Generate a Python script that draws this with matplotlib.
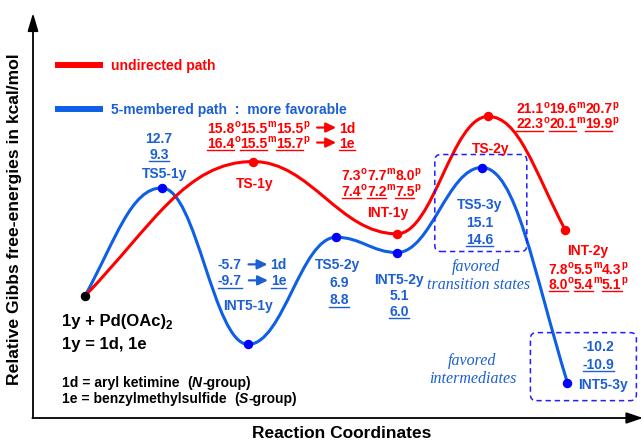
import matplotlib
matplotlib.use("Agg")
import matplotlib.pyplot as plt
from matplotlib.path import Path
from matplotlib.patches import PathPatch, FancyArrowPatch, FancyBboxPatch
from matplotlib.lines import Line2D
from matplotlib.transforms import IdentityTransform

plt.rcParams["font.family"] = ["Liberation Sans", "DejaVu Sans"]
plt.rcParams["font.weight"] = "bold"

# 5-membered (directed) path: reaction coordinate and free energies (kcal/mol)
blue_states = ["1y", "TS5-1y", "INT5-1y", "TS5-2y", "INT5-2y", "TS5-3y", "INT5-3y"]
blue_coord = [0.0, 0.96, 2.04, 3.14, 3.9, 4.96, 6.03]
blue_1d = [0.0, 12.7, -5.7, 6.9, 5.1, 15.1, -10.2]
blue_1e = [0.0, 9.3, -9.7, 8.8, 6.0, 14.6, -10.9]

# undirected path, ortho / meta / para for 1d and 1e
red_states = ["1y", "TS-1y", "INT-1y", "TS-2y", "INT-2y"]
red_coord = [0.0, 2.1, 3.9, 5.04, 6.0]
red_1d_o = [0.0, 15.8, 7.3, 21.1, 7.8]
red_1d_m = [0.0, 15.5, 7.7, 19.6, 5.5]
red_1d_p = [0.0, 15.5, 8.0, 20.7, 4.3]
red_1e_o = [0.0, 16.4, 7.4, 22.3, 8.0]
red_1e_m = [0.0, 15.5, 7.2, 20.1, 5.4]
red_1e_p = [0.0, 15.7, 7.5, 19.9, 5.1]

RED = "#ff0000"
BLUE_LINE = "#0e5fe6"
BLUE_TEXT = "#1b5fd3"
BLUE_DOT = "#0000ff"
BOX = "#1f1fff"

fig = plt.figure(figsize=(6.44, 4.43), dpi=100)
ax = fig.add_axes([0, 0, 1, 1])
ax.set_xlim(-1.0625, 6.9875)
ax.set_ylim(-17.3, 34.8)
ax.axis("off")

PIX = IdentityTransform()
renderer = fig.canvas.get_renderer()


def smooth_path(xs, ys, end_slope=1.3, k=0.4):
    # cubic segments, flat at every stationary point, steeper at both ends
    slopes = [0.0] * len(xs)
    slopes[0] = end_slope * (ys[1] - ys[0]) / (xs[1] - xs[0])
    slopes[-1] = end_slope * (ys[-1] - ys[-2]) / (xs[-1] - xs[-2])
    verts = [(xs[0], ys[0])]
    codes = [Path.MOVETO]
    for i in range(len(xs) - 1):
        d = (xs[i + 1] - xs[i]) * k
        verts += [(xs[i] + d, ys[i] + slopes[i] * d),
                  (xs[i + 1] - d, ys[i + 1] - slopes[i + 1] * d),
                  (xs[i + 1], ys[i + 1])]
        codes += [Path.CURVE4] * 3
    return Path(verts, codes)


def measure(s, size, style):
    t = fig.text(0, 0, s, fontsize=size, fontstyle=style, transform=PIX)
    w = t.get_window_extent(renderer).width
    t.remove()
    return w


def rich(x, y, parts, color, size=10, align="center"):
    # x, y: pixel position of the text baseline
    items = []
    for kind, val in parts:
        if kind in ("arrow", "gap"):
            items.append((kind, val, val))
        else:
            fs = size * 0.7 if kind in ("sup", "sub") else size
            style = "italic" if kind == "i" else "normal"
            items.append((kind, val, measure(val, fs, style)))
    total = sum(w for _, _, w in items)
    cx = x - total / 2 if align == "center" else x
    for kind, val, w in items:
        if kind == "arrow":
            fig.add_artist(FancyArrowPatch(
                (cx, y + 5), (cx + w, y + 5), transform=PIX,
                arrowstyle="-|>,head_length=0.5,head_width=0.24",
                mutation_scale=12, lw=1.6, color=color, shrinkA=0, shrinkB=0))
        elif kind != "gap":
            fs = size * 0.7 if kind in ("sup", "sub") else size
            style = "italic" if kind == "i" else "normal"
            dy = {"sup": 5.5, "sub": -3.5}.get(kind, 0)
            fig.text(cx, y + dy, val, transform=PIX, fontsize=fs, fontstyle=style,
                     color=color, ha="left", va="baseline")
            if kind == "u":
                fig.add_artist(Line2D([cx, cx + w], [y - 2.5, y - 2.5],
                                      transform=PIX, lw=1.0, color=color))
        cx += w


def anchor(x, y):
    return ax.transData.transform((x, y))


def label(pt, dx, dy, parts, color, size=10, align="center"):
    # dx, dy: offset of the text centre from the point, in pixels
    rich(pt[0] + dx, pt[1] + dy - 5, parts, color, size, align)


def fmt(v):
    return f"{v:.1f}"


def dashed_box(pt, left, right, top, bottom):
    fig.add_artist(FancyBboxPatch(
        (pt[0] + left, pt[1] + bottom), right - left, top - bottom,
        boxstyle="round,pad=0,rounding_size=6", transform=PIX, fill=False,
        ec=BOX, lw=1.1, ls=(0, (3.5, 2.5))))


def italic_note(pt, dx, dy, s):
    fig.text(pt[0] + dx, pt[1] + dy, s, transform=PIX, family="Liberation Serif",
             fontstyle="italic", fontweight="normal", fontsize=11.5,
             color=BLUE_TEXT, ha="center", va="center")


# energy profiles
ax.add_patch(PathPatch(smooth_path(blue_coord, blue_1d), fill=False,
                       ec=BLUE_LINE, lw=2.2, zorder=2))
ax.add_patch(PathPatch(smooth_path(red_coord, red_1d_o), fill=False,
                       ec=RED, lw=2.2, zorder=3))
ax.plot(blue_coord[1:], blue_1d[1:], "o", ms=5.8, color=BLUE_DOT, zorder=5)
ax.plot(red_coord[1:], red_1d_o[1:], "o", ms=5.8, color=RED, zorder=5)
ax.plot(blue_coord[:1], blue_1d[:1], "o", ms=5.8, color="black", zorder=6)

# axes arrows
ax.annotate("", xy=(33 / 644, 1 - 13 / 443), xytext=(33 / 644, 1 - 418 / 443),
            xycoords="axes fraction",
            arrowprops=dict(arrowstyle="-|>,head_length=0.54,head_width=0.16",
                            mutation_scale=20, lw=1.3, color="black",
                            shrinkA=0, shrinkB=0))
ax.annotate("", xy=(643 / 644, 1 - 418 / 443), xytext=(32.4 / 644, 1 - 418 / 443),
            xycoords="axes fraction",
            arrowprops=dict(arrowstyle="-|>,head_length=0.5,head_width=0.17",
                            mutation_scale=20, lw=1.3, color="black",
                            shrinkA=0, shrinkB=0))
fig.text(342 / 644, 10 / 443, "Reaction Coordinates", fontsize=12.5,
         ha="center", va="center")
fig.text(15 / 644, 1 - 219 / 443, "Relative Gibbs free-energies in kcal/mol",
         fontsize=12.6, rotation=90, ha="center", va="center")

# legend
leg = ax.legend(handles=[Line2D([], [], color=RED, lw=4.3),
                         Line2D([], [], color=BLUE_LINE, lw=4.3)],
                labels=["undirected path", "5-membered path  :  more favorable"],
                loc="upper left", bbox_to_anchor=(58 / 644, 1 - 59 / 443),
                frameon=False, borderpad=0, borderaxespad=0, handlelength=3.05,
                handletextpad=0.75, labelspacing=2.15, fontsize=10,
                labelcolor=[RED, BLUE_TEXT])

# blue path labels
bp = [anchor(x, y) for x, y in zip(blue_coord, blue_1d)]

p = bp[1]
label(p, -3, 50, [("t", fmt(blue_1d[1]))], BLUE_TEXT)
label(p, -3, 34, [("u", fmt(blue_1e[1]))], BLUE_TEXT)
label(p, 3, 15, [("t", blue_states[1])], BLUE_TEXT)

p = bp[2]
label(p, 4, 80, [("t", fmt(blue_1d[2])), ("gap", 7), ("arrow", 19), ("gap", 3),
                 ("t", "1d")], BLUE_TEXT)
label(p, 4, 64, [("u", fmt(blue_1e[2])), ("gap", 7), ("arrow", 19), ("gap", 3),
                 ("u", "1e")], BLUE_TEXT)
label(p, 0, 39, [("t", blue_states[2])], BLUE_TEXT)

p = bp[3]
label(p, 1, -27, [("t", blue_states[3])], BLUE_TEXT)
label(p, 3, -45, [("t", fmt(blue_1d[3]))], BLUE_TEXT)
label(p, 3, -62, [("u", fmt(blue_1e[3]))], BLUE_TEXT)

p = bp[4]
label(p, 2, -26, [("t", blue_states[4])], BLUE_TEXT)
label(p, 2, -42, [("t", fmt(blue_1d[4]))], BLUE_TEXT)
label(p, 2, -58, [("u", fmt(blue_1e[4]))], BLUE_TEXT)

p = bp[5]
label(p, -2, -36, [("t", blue_states[5])], BLUE_TEXT)
label(p, -2, -54, [("t", fmt(blue_1d[5]))], BLUE_TEXT)
label(p, -2, -71, [("u", fmt(blue_1e[5]))], BLUE_TEXT)
dashed_box(p, -47, 45, 13, -84)
italic_note(p, -6, -99, "favored")
italic_note(p, -3, -117, "transition states")

p = bp[6]
label(p, 31, 37, [("t", fmt(blue_1d[6]))], BLUE_TEXT)
label(p, 31, 19, [("u", fmt(blue_1e[6]))], BLUE_TEXT)
label(p, 36, -1, [("t", blue_states[6])], BLUE_TEXT)
dashed_box(p, -37, 69, 50, -18)
italic_note(p, -95, 22, "favored")
italic_note(p, -95, 4, "intermediates")


# red path labels
def omp_parts(i, underline, tail=None):
    kind = "u" if underline else "t"
    o, m, pp = (red_1e_o, red_1e_m, red_1e_p) if underline else (red_1d_o, red_1d_m, red_1d_p)
    parts = [(kind, fmt(o[i])), ("sup", "o"), (kind, fmt(m[i])), ("sup", "m"),
             (kind, fmt(pp[i])), ("sup", "p")]
    if tail:
        parts += [("gap", 8), ("arrow", 19), ("gap", 3), (kind, tail)]
    return parts


rp = [anchor(x, y) for x, y in zip(red_coord, red_1d_o)]

p = rp[1]
label(p, 2, -21, [("t", red_states[1])], RED)
label(p, -46, 34, omp_parts(1, False, "1d"), RED, align="left")
label(p, -46, 19, omp_parts(1, True, "1e"), RED, align="left")

p = rp[2]
label(p, -16, 59, omp_parts(2, False), RED)
label(p, -16, 43, omp_parts(2, True), RED)
label(p, -9, 22, [("t", red_states[2])], RED)

p = rp[3]
label(p, 2, -32, [("t", red_states[3])], RED)
label(p, 28, 8, omp_parts(3, False), RED, align="left")
label(p, 28, -7, omp_parts(3, True), RED, align="left")

p = rp[4]
label(p, 23, -20, [("t", red_states[4])], RED)
label(p, 23, -39, omp_parts(4, False), RED)
label(p, 23, -54, omp_parts(4, True), RED)

# starting point and substrate key
p = bp[0]
label(p, -23, -25, [("t", "1y + Pd(OAc)"), ("sub", "2")], "black", size=12, align="left")
label(p, -23, -48, [("t", "1y = 1d, 1e")], "black", size=12, align="left")
rich(62, 56, [("t", "1d = aryl ketimine"), ("gap", 8), ("t", "("), ("i", "N"),
              ("t", "-group)")], "black", align="left")
rich(62, 40, [("t", "1e = benzylmethylsulfide"), ("gap", 8), ("t", "("), ("i", "S"),
              ("t", "-group)")], "black", align="left")

fig.savefig("out.png", dpi=100)
